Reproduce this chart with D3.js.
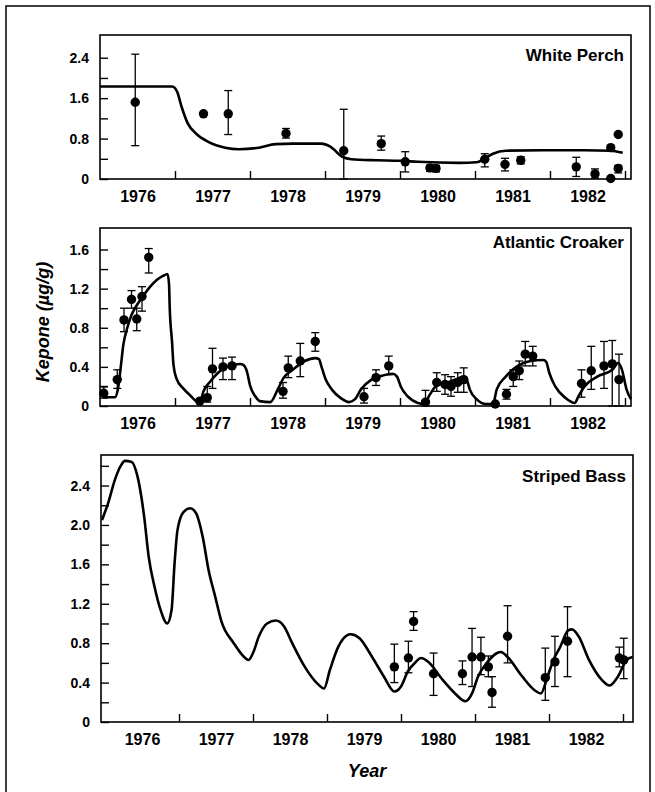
<!DOCTYPE html>
<html>
<head>
<meta charset="utf-8">
<script src="https://cdnjs.cloudflare.com/ajax/libs/d3/7.8.5/d3.min.js"></script>
<style>
  body { margin: 0; background: #fff; }
  svg text { font-family: "Liberation Sans", Arial, sans-serif; font-weight: bold; fill: #000; }
  .ylab text { font-size: 14px; }
  .xlab text { font-family: "Liberation Sans Narrow", "Liberation Sans", Arial, sans-serif; font-size: 16px; }
  .title { font-size: 17px; }
  .axtitle { font-size: 18px; font-style: italic; }
</style>
</head>
<body>
<div id="chart"></div>
<script>
// ---- data ----
const yearLabels = [1976, 1977, 1978, 1979, 1980, 1981, 1982];
const yearBounds = [1977, 1978, 1979, 1980, 1981, 1982, 1983];

// White Perch
const perchModelT = [1976.00,1976.96,1977.00,1977.03,1977.09,1977.17,1977.28,1977.45,1977.67,1977.85,1978.12,1978.34,1978.57,1978.95,1979.07,1979.23,1979.35,1979.68,1980.01,1980.24,1980.79,1981.02,1981.13,1981.24,1981.41,1981.91,1982.46,1982.80,1982.97];
const perchModelV = [1.83,1.83,1.80,1.72,1.42,1.10,0.90,0.73,0.62,0.59,0.62,0.69,0.70,0.70,0.64,0.44,0.39,0.37,0.36,0.34,0.32,0.33,0.41,0.50,0.56,0.57,0.57,0.56,0.52];
const perchObsT = [1976.47,1977.38,1977.71,1978.48,1979.25,1979.75,1980.07,1980.40,1980.48,1981.13,1981.40,1981.61,1982.35,1982.60,1982.81,1982.91,1982.81,1982.91];
const perchObsV = [1.52,1.29,1.29,0.90,0.56,0.70,0.34,0.22,0.21,0.39,0.29,0.37,0.24,0.10,0.62,0.88,0.01,0.21];
const perchLo   = [0.66,null,0.88,0.81,0.00,0.57,0.14,0.15,0.14,0.24,0.16,0.30,0.05,0.02,null,null,null,0.12];
const perchHi   = [2.47,null,1.75,1.00,1.38,0.85,0.54,0.27,0.27,0.50,0.41,0.44,0.43,0.20,null,null,null,0.27];

// Atlantic Croaker
const croakerModelT = [1976.00,1976.08,1976.20,1976.24,1976.28,1976.31,1976.36,1976.42,1976.49,1976.58,1976.67,1976.76,1976.84,1976.90,1976.92,1976.93,1976.96,1976.98,1977.02,1977.11,1977.20,1977.29,1977.33,1977.38,1977.47,1977.56,1977.64,1977.78,1977.87,1977.91,1977.96,1978.00,1978.07,1978.13,1978.27,1978.37,1978.45,1978.57,1978.73,1978.87,1978.92,1978.95,1979.01,1979.09,1979.21,1979.32,1979.40,1979.48,1979.62,1979.76,1979.90,1979.96,1980.01,1980.10,1980.24,1980.32,1980.40,1980.49,1980.63,1980.74,1980.85,1980.89,1980.93,1981.02,1981.15,1981.24,1981.29,1981.41,1981.57,1981.74,1981.91,1981.95,1981.99,1982.07,1982.21,1982.33,1982.38,1982.46,1982.63,1982.83,1982.91,1982.96,1983.02,1983.08];
const croakerModelV = [0.12,0.09,0.09,0.18,0.42,0.62,0.79,0.93,1.03,1.13,1.22,1.29,1.33,1.35,1.25,1.00,0.66,0.42,0.28,0.18,0.11,0.045,0.035,0.15,0.25,0.33,0.38,0.42,0.43,0.42,0.35,0.21,0.10,0.05,0.04,0.17,0.29,0.37,0.46,0.49,0.48,0.41,0.27,0.17,0.08,0.04,0.07,0.17,0.27,0.31,0.33,0.30,0.20,0.10,0.03,0.02,0.12,0.21,0.24,0.27,0.30,0.27,0.17,0.07,0.02,0.02,0.17,0.30,0.41,0.46,0.47,0.45,0.34,0.20,0.08,0.03,0.10,0.20,0.30,0.37,0.44,0.37,0.17,0.07];
const croakerObsT = [1976.05,1976.23,1976.32,1976.42,1976.49,1976.56,1976.65,1977.33,1977.43,1977.50,1977.64,1977.76,1978.44,1978.51,1978.67,1978.87,1979.52,1979.68,1979.85,1980.34,1980.49,1980.60,1980.68,1980.77,1980.85,1981.27,1981.42,1981.51,1981.59,1981.67,1981.77,1982.42,1982.55,1982.72,1982.83,1982.92];
const croakerObsV = [0.13,0.27,0.88,1.09,0.89,1.12,1.52,0.05,0.085,0.38,0.40,0.41,0.15,0.39,0.46,0.66,0.095,0.29,0.41,0.04,0.24,0.22,0.20,0.24,0.27,0.02,0.12,0.30,0.36,0.53,0.51,0.23,0.36,0.41,0.43,0.27];
const croakerLo   = [0.08,0.18,0.76,1.00,0.77,0.97,1.36,null,0.04,0.18,0.27,0.27,0.08,0.29,0.30,0.56,0.03,0.21,0.32,0.00,0.15,0.12,0.10,0.14,0.14,null,0.07,0.20,0.27,0.41,0.41,0.09,0.17,0.18,0.00,0.00];
const croakerHi   = [0.20,0.37,1.00,1.18,1.00,1.22,1.61,null,0.20,0.59,0.49,0.50,0.24,0.51,0.64,0.75,0.18,0.37,0.51,0.16,0.34,0.32,0.30,0.34,0.39,null,0.17,0.37,0.46,0.66,0.61,0.37,0.61,0.66,0.67,0.53];

// Striped Bass
const bassModelT = [1975.96,1976.05,1976.13,1976.22,1976.27,1976.36,1976.44,1976.53,1976.59,1976.67,1976.75,1976.84,1976.90,1976.94,1976.98,1977.06,1977.15,1977.23,1977.32,1977.40,1977.49,1977.57,1977.74,1977.88,1977.94,1978.00,1978.08,1978.19,1978.31,1978.42,1978.53,1978.70,1978.87,1978.96,1979.04,1979.15,1979.27,1979.32,1979.44,1979.61,1979.77,1979.91,1980.00,1980.09,1980.20,1980.27,1980.37,1980.56,1980.73,1980.87,1980.96,1981.04,1981.16,1981.30,1981.35,1981.44,1981.64,1981.81,1981.89,1981.98,1982.06,1982.15,1982.26,1982.31,1982.40,1982.54,1982.71,1982.82,1982.93,1983.05,1983.13];
const bassModelV = [2.05,2.24,2.45,2.61,2.65,2.64,2.49,2.08,1.68,1.37,1.14,1.00,1.14,1.61,1.95,2.13,2.17,2.12,1.88,1.54,1.27,1.03,0.80,0.66,0.63,0.70,0.87,1.00,1.03,0.97,0.80,0.56,0.39,0.34,0.53,0.76,0.88,0.89,0.85,0.66,0.46,0.31,0.36,0.51,0.61,0.65,0.61,0.43,0.29,0.21,0.29,0.46,0.60,0.70,0.71,0.66,0.46,0.32,0.29,0.46,0.63,0.76,0.93,0.94,0.87,0.63,0.43,0.37,0.46,0.63,0.66];
const bassObsT = [1979.91,1980.10,1980.17,1980.44,1980.83,1980.96,1981.08,1981.18,1981.23,1981.44,1981.95,1982.08,1982.25,1982.95,1983.01];
const bassObsV = [0.56,0.65,1.02,0.49,0.49,0.66,0.66,0.56,0.30,0.87,0.45,0.61,0.82,0.65,0.63];
const bassLo   = [0.40,0.50,0.93,0.27,0.38,0.36,0.48,0.46,0.15,0.60,0.22,0.36,0.46,0.56,0.44];
const bassHi   = [0.79,0.82,1.12,0.70,0.62,0.95,0.86,0.67,0.46,1.18,0.75,0.87,1.17,0.76,0.85];

// ---- layout ----
const width = 655, height = 792;

const panels = [
  {title: "White Perch", mT: perchModelT, mV: perchModelV, oT: perchObsT, oV: perchObsV, lo: perchLo, hi: perchHi,
   yMax: 2.85, major: [0, 0.8, 1.6, 2.4], minor: [0.4, 1.2, 2.0],
   left: 100, right: 631, top: 35, bottom: 179, xDomain: [1976, 1983.08], titleY: 61},
  {title: "Atlantic Croaker", mT: croakerModelT, mV: croakerModelV, oT: croakerObsT, oV: croakerObsV, lo: croakerLo, hi: croakerHi,
   yMax: 1.82, major: [0, 0.4, 0.8, 1.2, 1.6], minor: [0.2, 0.6, 1.0, 1.4],
   left: 100, right: 631, top: 228, bottom: 406, xDomain: [1976, 1983.08], titleY: 248},
  {title: "Striped Bass", mT: bassModelT, mV: bassModelV, oT: bassObsT, oV: bassObsV, lo: bassLo, hi: bassHi,
   yMax: 2.71, major: [0, 0.4, 0.8, 1.2, 1.6, 2.0, 2.4], minor: [0.2, 0.6, 1.0, 1.4, 1.8, 2.2, 2.6],
   left: 101, right: 633, top: 455, bottom: 722, xDomain: [1975.946, 1983.135], titleY: 482}
];

const svg = d3.select("#chart")
  .append("svg")
  .attr("width", width)
  .attr("height", height)
  .attr("viewBox", [0, 0, width, height]);

// outer frame (runs off the bottom of the page)
svg.append("rect")
  .attr("x", 6).attr("y", 6)
  .attr("width", 644).attr("height", 820)
  .attr("fill", "none").attr("stroke", "#000").attr("stroke-width", 1.5);

const fmt = d => d === 0 ? "0" : d3.format(".1f")(d);

function drawPanel(p) {
  const x = d3.scaleLinear().domain(p.xDomain).range([p.left, p.right]);
  const y = d3.scaleLinear().domain([0, p.yMax]).range([p.bottom, p.top]);
  const g = svg.append("g");

  // y ticks (inside) and labels
  g.append("g")
    .attr("class", "ylab")
    .attr("transform", `translate(${p.left},0)`)
    .call(d3.axisLeft(y).tickValues(p.major).tickSize(-8).tickPadding(11).tickFormat(fmt))
    .call(a => a.select(".domain").remove())
    .call(a => a.selectAll("line").attr("stroke-width", 1.4));
  g.append("g")
    .attr("transform", `translate(${p.left},0)`)
    .call(d3.axisLeft(y).tickValues(p.minor).tickSize(-8).tickFormat(""))
    .call(a => a.select(".domain").remove())
    .call(a => a.selectAll("line").attr("stroke-width", 1.4));

  // x ticks at year boundaries, labels mid-year
  g.append("g")
    .attr("transform", `translate(0,${p.bottom})`)
    .call(d3.axisBottom(x).tickValues(yearBounds).tickSize(-8).tickFormat(""))
    .call(a => a.select(".domain").remove())
    .call(a => a.selectAll("line").attr("stroke-width", 1.4));
  g.append("g")
    .attr("class", "xlab")
    .attr("transform", `translate(0,${p.bottom})`)
    .call(d3.axisBottom(x).tickValues(yearLabels.map(d => d + 0.5)).tickSize(0).tickPadding(12).tickFormat(d => Math.floor(d)))
    .call(a => a.select(".domain").remove());

  // frame
  g.append("rect")
    .attr("x", p.left).attr("y", p.top)
    .attr("width", p.right - p.left).attr("height", p.bottom - p.top)
    .attr("fill", "none").attr("stroke", "#000").attr("stroke-width", 1.6);

  // model curve
  const line = d3.line()
    .x(i => x(p.mT[i]))
    .y(i => y(p.mV[i]))
    .curve(d3.curveMonotoneX);
  g.append("path")
    .attr("d", line(d3.range(p.mT.length)))
    .attr("fill", "none")
    .attr("stroke", "#000")
    .attr("stroke-width", 2.6)
    .attr("stroke-linejoin", "round");

  // observations with error bars
  const obs = d3.range(p.oT.length).map(i => ({t: p.oT[i], v: p.oV[i], lo: p.lo[i], hi: p.hi[i]}));
  const eb = g.selectAll(".err")
    .data(obs.filter(d => d.lo !== null))
    .join("g")
    .attr("class", "err")
    .attr("stroke", "#000")
    .attr("stroke-width", 1.3);
  eb.append("line")
    .attr("x1", d => x(d.t)).attr("x2", d => x(d.t))
    .attr("y1", d => y(d.lo)).attr("y2", d => y(d.hi));
  eb.append("line")
    .attr("x1", d => x(d.t) - 4).attr("x2", d => x(d.t) + 4)
    .attr("y1", d => y(d.lo)).attr("y2", d => y(d.lo));
  eb.append("line")
    .attr("x1", d => x(d.t) - 4).attr("x2", d => x(d.t) + 4)
    .attr("y1", d => y(d.hi)).attr("y2", d => y(d.hi));

  g.selectAll(".dot")
    .data(obs)
    .join("circle")
    .attr("class", "dot")
    .attr("cx", d => x(d.t))
    .attr("cy", d => y(d.v))
    .attr("r", 4.7)
    .attr("fill", "#000");

  // species name
  g.append("text")
    .attr("class", "title")
    .attr("x", p.right - 7)
    .attr("y", p.titleY)
    .attr("text-anchor", "end")
    .text(p.title);
}

panels.forEach(drawPanel);

// axis titles
svg.append("text")
  .attr("class", "axtitle")
  .attr("transform", "translate(49,322) rotate(-90)")
  .attr("text-anchor", "middle")
  .text("Kepone (µg/g)");

svg.append("text")
  .attr("class", "axtitle")
  .attr("x", 367)
  .attr("y", 777)
  .attr("text-anchor", "middle")
  .text("Year");
</script>
</body>
</html>
